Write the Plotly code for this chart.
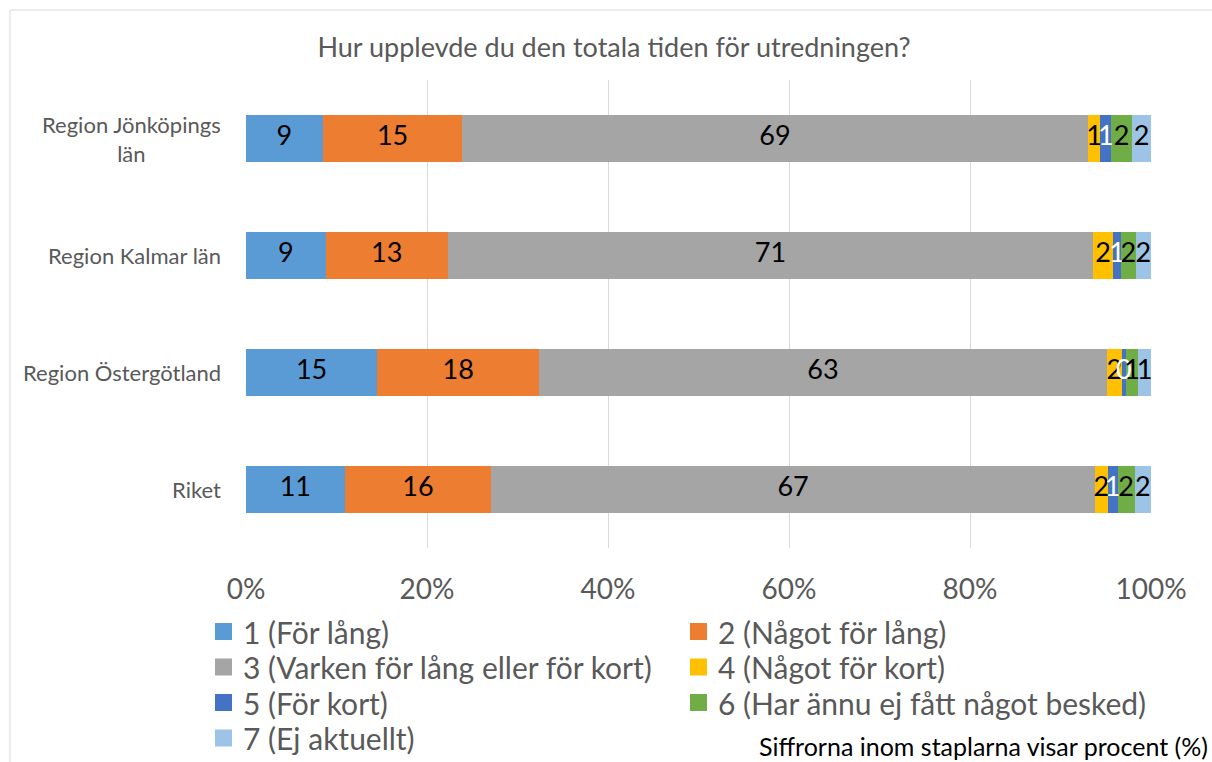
import plotly.graph_objects as go

categories = ["Region Jönköpings<br>län", "Region Kalmar län", "Region Östergötland", "Riket"]
series_names = [
    "1 (För lång)",
    "2 (Något för lång)",
    "3 (Varken för lång eller för kort)",
    "4 (Något för kort)",
    "5 (För kort)",
    "6 (Har ännu ej fått något besked)",
    "7 (Ej aktuellt)",
]
s1 = [8.5, 8.8, 14.5, 10.9]
s2 = [15.4, 13.5, 17.9, 16.2]
s3 = [69.1, 71.3, 62.7, 66.7]
s4 = [1.4, 2.2, 1.7, 1.4]
s5 = [1.2, 0.9, 0.4, 1.1]
s6 = [2.3, 1.6, 1.4, 1.9]
s7 = [2.1, 1.7, 1.4, 1.8]
labels1 = ["9", "9", "15", "11"]
labels2 = ["15", "13", "18", "16"]
labels3 = ["69", "71", "63", "67"]
labels4 = ["1", "2", "2", "2"]
labels5 = ["1", "1", "0", "1"]
labels6 = ["2", "2", "1", "2"]
labels7 = ["2", "2", "1", "2"]
tick_vals = [0, 20, 40, 60, 80, 100]
tick_text = ["0%", "20%", "40%", "60%", "80%", "100%"]

values = [s1, s2, s3, s4, s5, s6, s7]
texts = [labels1, labels2, labels3, labels4, labels5, labels6, labels7]
colors = ["#5B9BD5", "#ED7D31", "#A5A5A5", "#FFC000", "#4472C4", "#70AD47", "#9DC3E6"]
text_colors = ["black", "black", "black", "black", "white", "black", "black"]

FONT = "Lato, Calibri, Carlito, sans-serif"

fig = go.Figure()
for name, vals, col in zip(series_names, values, colors):
    fig.add_trace(go.Bar(
        y=categories, x=vals, name=name, orientation="h",
        marker=dict(color=col, line=dict(width=0)),
        hoverinfo="skip", showlegend=False,
    ))

# segment labels at segment centres
cum = [0.0] * len(categories)
for vals, txt, tcol in zip(values, texts, text_colors):
    mids = [c + v / 2 for c, v in zip(cum, vals)]
    cum = [c + v for c, v in zip(cum, vals)]
    fig.add_trace(go.Scatter(
        y=categories, x=mids, mode="text", text=txt,
        textposition="middle center",
        textfont=dict(size=27, color=tcol, family=FONT),
        showlegend=False, hoverinfo="skip", cliponaxis=False,
    ))

W, H = 1212, 762
L, T = 246, 80
pw, ph = 905, 468
R = W - L - pw
B = H - T - ph


def px2x(p):
    return (p - L) / pw


def py2y(p):
    return (T + ph - p) / ph


fig.update_layout(
    width=W, height=H,
    barmode="stack", bargap=0.6,
    margin=dict(l=L, r=R, t=T, b=B, autoexpand=False),
    paper_bgcolor="white", plot_bgcolor="white",
    font=dict(family=FONT, color="#595959"),
    title=dict(text="Hur upplevde du den totala tiden för utredningen?",
               x=614 / W, xanchor="center", y=1 - 48 / H, yanchor="middle",
               font=dict(size=27, color="#595959", family=FONT)),
    xaxis=dict(range=[0, 100], tickvals=tick_vals, ticktext=tick_text,
               showgrid=True, gridcolor="#D9D9D9", gridwidth=1,
               zeroline=False, showline=False, ticks="",
               tickfont=dict(size=28, color="#595959"), ticklabelstandoff=22),
    yaxis=dict(categoryorder="array", categoryarray=categories[::-1],
               showgrid=False, zeroline=False, showline=False, ticks="",
               showticklabels=False),
    showlegend=False,
)

# category labels
for cat in categories:
    fig.add_annotation(text=cat, xref="paper", yref="y", x=px2x(223), y=cat,
                       xanchor="right", yanchor="middle", align="center", showarrow=False,
                       font=dict(size=22, color="#595959", family=FONT))

# legend (two columns, row-major order)
col_x = [215, 690]
row_y0 = 631.5
row_dy = 35.5
sq = 17
for i, (name, col) in enumerate(zip(series_names, colors)):
    r, c = divmod(i, 2)
    cx = col_x[c]
    cy = row_y0 + r * row_dy
    fig.add_shape(type="rect", xref="paper", yref="paper",
                  x0=px2x(cx), x1=px2x(cx + sq), y0=py2y(cy + sq / 2), y1=py2y(cy - sq / 2),
                  fillcolor=col, line=dict(width=0))
    fig.add_annotation(text=name, xref="paper", yref="paper",
                       x=px2x(cx + sq + 9), y=py2y(cy), xanchor="left", yanchor="middle",
                       showarrow=False, font=dict(size=30, color="#595959", family=FONT))

fig.add_annotation(text="Siffrorna inom staplarna visar procent (%)",
                   xref="paper", yref="paper", x=px2x(1210), y=py2y(746),
                   xanchor="right", yanchor="middle", showarrow=False,
                   font=dict(size=25, color="black", family=FONT))

fig.add_shape(type="rect", xref="paper", yref="paper",
              x0=px2x(10), x1=px2x(1240), y0=py2y(10), y1=py2y(790),
              line=dict(color="#D9D9D9", width=1), layer="below")

fig.write_html(
    "out.html",
    config={"displayModeBar": False},
    post_script="document.body.style.margin='0';document.body.style.overflow='hidden';",
)
